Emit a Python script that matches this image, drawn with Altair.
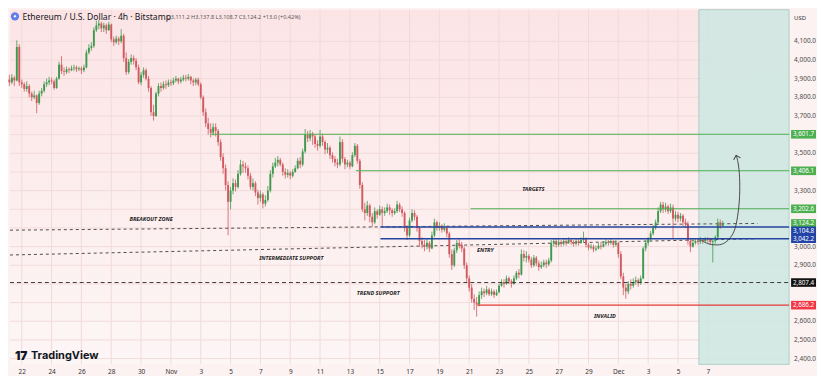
import altair as alt
import pandas as pd

# ---------------- data ----------------
# 4h candles, first candle Oct 21 04:00; x = days since Oct 22 00:00
first_day = -5 / 6
first_open = 3895.0
closes = [
    3880, 3905, 3890, 4070, 3880,                  # Oct 21
    3870, 3845, 3860, 3820, 3800, 3810,            # Oct 22
    3770, 3820, 3835, 3870, 3880, 3890,            # Oct 23
    3885, 3850, 3900, 3975, 3940, 3935,            # Oct 24
    3950, 3945, 3955, 3960, 3950, 3955,            # Oct 25
    3945, 3960, 4040, 4065, 4075, 4160,            # Oct 26
    4185, 4195, 4170, 4185, 4160, 4190,            # Oct 27
    4110, 4095, 4115, 4100, 4130, 4010,            # Oct 28
    3935, 3990, 4010, 3995, 3960, 3880,            # Oct 29
    3920, 3945, 3900, 3850, 3720, 3700,            # Oct 30
    3820, 3860, 3850, 3870, 3865, 3880,            # Oct 31
    3875, 3890, 3900, 3885, 3895, 3905,            # Nov 1
    3900, 3910, 3890, 3880, 3895, 3870,            # Nov 2
    3800, 3720, 3660, 3630, 3610, 3640,            # Nov 3
    3620, 3560, 3480, 3420, 3330, 3240,            # Nov 4
    3300, 3340, 3320, 3390, 3440, 3430,            # Nov 5
    3420, 3380, 3320, 3340, 3290, 3260,            # Nov 6
    3280, 3230, 3250, 3300, 3390, 3430,            # Nov 7
    3450, 3465, 3440, 3400, 3385, 3395,            # Nov 8
    3380, 3400, 3420, 3460, 3440, 3510,            # Nov 9
    3600, 3580, 3605, 3590, 3550, 3540,            # Nov 10
    3590, 3560, 3520, 3530, 3490, 3470,            # Nov 11
    3450, 3440, 3560, 3470, 3440, 3450,            # Nov 12
    3430, 3490, 3540, 3460, 3330, 3200,            # Nov 13
    3180, 3220, 3160, 3130, 3190, 3170,            # Nov 14
    3200, 3180, 3190, 3210, 3195, 3180,            # Nov 15
    3190, 3225, 3200, 3180, 3100, 3060,            # Nov 16
    3140, 3180, 3160, 3100, 3030, 3010,            # Nov 17
    3000, 3020, 2990, 3060, 3130, 3100,            # Nov 18
    3110, 3090, 3100, 3070, 2960, 2900,            # Nov 19
    2980, 3020, 3010, 2990, 2900, 2830,            # Nov 20
    2780, 2720, 2700, 2690, 2740, 2760,            # Nov 21
    2750, 2770, 2745, 2760, 2740, 2755,            # Nov 22
    2790, 2810, 2800, 2830, 2815, 2800,            # Nov 23
    2830, 2860, 2850, 2960, 2940, 2950,            # Nov 24
    2930, 2900, 2940, 2910, 2890, 2900,            # Nov 25
    2915, 2905, 2925, 3020, 3030, 3010,            # Nov 26
    3025, 3015, 3030, 3020, 3035, 3025,            # Nov 27
    3015, 3030, 3020, 3035, 3040, 3010,            # Nov 28
    2995, 3000, 2985, 2990, 3005, 3000,            # Nov 29
    3015, 3025, 3020, 3030, 3010, 3020,            # Nov 30
    2960, 2840, 2780, 2760, 2800, 2790,            # Dec 1
    2810, 2820, 2805, 2830, 2990, 3020,            # Dec 2
    3040, 3070, 3100, 3130, 3190, 3225,            # Dec 3
    3200, 3215, 3190, 3210, 3150, 3170,            # Dec 4
    3150, 3165, 3130, 3120, 3030, 3000,            # Dec 5
    3020, 3030, 3025, 3035, 3030, 3040,            # Dec 6
    3035, 3025, 3030, 3050, 3130, 3111.2,          # Dec 7
    3124.2,                                        # Dec 8
]
highs = [
    3920, 3925, 3915, 4105, 4085,
    3895, 3880, 3885, 3870, 3830, 3835,
    3815, 3835, 3850, 3885, 3900, 3910,
    3905, 3895, 3910, 3990, 4020, 3960,
    3965, 3960, 3970, 3975, 3970, 3965,
    3965, 3975, 4055, 4085, 4095, 4175,
    4210, 4215, 4205, 4200, 4195, 4205,
    4195, 4125, 4130, 4125, 4165, 4140,
    4040, 4005, 4030, 4025, 4010, 3975,
    3935, 3960, 3955, 3915, 3860, 3760,
    3830, 3875, 3880, 3885, 3890, 3895,
    3895, 3905, 3915, 3905, 3910, 3920,
    3920, 3925, 3915, 3900, 3905, 3905,
    3880, 3810, 3740, 3690, 3660, 3660,
    3660, 3630, 3575, 3500, 3440, 3350,
    3320, 3365, 3360, 3410, 3465, 3460,
    3450, 3435, 3395, 3365, 3350, 3305,
    3300, 3290, 3275, 3325, 3410, 3450,
    3475, 3485, 3475, 3450, 3420, 3415,
    3405, 3415, 3435, 3475, 3480, 3525,
    3630, 3620, 3625, 3615, 3600, 3570,
    3625, 3605, 3570, 3555, 3540, 3505,
    3485, 3470, 3590, 3575, 3480, 3465,
    3460, 3505, 3555, 3550, 3470, 3345,
    3235, 3245, 3230, 3180, 3210, 3200,
    3220, 3215, 3210, 3230, 3225, 3205,
    3205, 3245, 3235, 3215, 3190, 3115,
    3155, 3200, 3195, 3170, 3110, 3050,
    3035, 3045, 3030, 3080, 3150, 3140,
    3130, 3120, 3125, 3110, 3080, 2985,
    2995, 3035, 3040, 3025, 3000, 2915,
    2845, 2800, 2745, 2730, 2760, 2780,
    2775, 2790, 2780, 2775, 2770, 2770,
    2800, 2825, 2825, 2845, 2840, 2825,
    2845, 2870, 2880, 2985, 2980, 2975,
    2960, 2945, 2955, 2950, 2925, 2920,
    2930, 2930, 2940, 3035, 3045, 3040,
    3040, 3035, 3045, 3040, 3050, 3045,
    3035, 3045, 3040, 3050, 3080, 3050,
    3020, 3015, 3010, 3005, 3020, 3025,
    3030, 3040, 3035, 3045, 3035, 3035,
    3025, 2975, 2860, 2800, 2815, 2825,
    2830, 2840, 2830, 2845, 3000, 3035,
    3050, 3085, 3115, 3145, 3210, 3240,
    3240, 3235, 3225, 3230, 3225, 3190,
    3185, 3180, 3175, 3150, 3135, 3045,
    3035, 3045, 3040, 3050, 3045, 3050,
    3050, 3045, 3040, 3060, 3150, 3145,
    3137.8,
]
lows = [
    3860, 3870, 3860, 3885, 3860,
    3850, 3830, 3830, 3800, 3780, 3790,
    3715, 3760, 3805, 3825, 3855, 3865,
    3870, 3840, 3845, 3895, 3925, 3915,
    3925, 3930, 3940, 3940, 3935, 3940,
    3925, 3935, 3955, 4030, 4050, 4065,
    4150, 4165, 4150, 4150, 4140, 4155,
    4095, 4075, 4085, 4080, 4090, 3990,
    3920, 3925, 3975, 3975, 3945, 3870,
    3865, 3905, 3890, 3830, 3700, 3675,
    3695, 3805, 3830, 3840, 3845, 3855,
    3860, 3865, 3880, 3870, 3875, 3885,
    3885, 3890, 3870, 3860, 3865, 3860,
    3790, 3700, 3640, 3600, 3585, 3595,
    3590, 3540, 3460, 3390, 3300, 3060,
    3200, 3280, 3295, 3310, 3380, 3395,
    3395, 3360, 3305, 3300, 3270, 3225,
    3240, 3205, 3215, 3240, 3290, 3370,
    3420, 3430, 3430, 3380, 3365, 3370,
    3360, 3370, 3395, 3415, 3420, 3430,
    3500, 3560, 3565, 3545, 3530, 3515,
    3530, 3540, 3495, 3500, 3470, 3450,
    3430, 3420, 3430, 3450, 3415, 3425,
    3415, 3425, 3480, 3445, 3310, 3185,
    3140, 3165, 3130, 3105, 3120, 3150,
    3165, 3110, 3165, 3180, 3170, 3160,
    3170, 3180, 3185, 3160, 3080, 3035,
    3050, 3130, 3140, 3080, 3000, 2990,
    2975, 2985, 2970, 2985, 3050, 3085,
    3085, 3075, 3080, 3050, 2940, 2875,
    2890, 2965, 2990, 2970, 2880, 2810,
    2760, 2700, 2660, 2625, 2680, 2720,
    2730, 2740, 2735, 2735, 2725, 2735,
    2750, 2785, 2780, 2795, 2800, 2780,
    2795, 2820, 2830, 2845, 2920, 2915,
    2915, 2885, 2890, 2895, 2870, 2880,
    2890, 2885, 2895, 2915, 3000, 2995,
    3000, 3000, 3005, 3005, 3015, 3010,
    3000, 3005, 3005, 3015, 3020, 2995,
    2980, 2985, 2970, 2975, 2985, 2985,
    2995, 3005, 3005, 3010, 2995, 3000,
    2940, 2825, 2740, 2720, 2745, 2770,
    2780, 2795, 2785, 2795, 2825, 2975,
    3005, 3030, 3060, 3090, 3120, 3180,
    3180, 3185, 3175, 3180, 3040, 3135,
    3130, 3135, 3110, 3100, 3010, 2970,
    2995, 3010, 3010, 3015, 3015, 3020,
    3020, 3010, 2915, 3015, 3040, 3095,
    3108.7,
]

tick_days = list(range(0, 47, 2))
tick_labels = ["22", "24", "26", "28", "30", "Nov", "3", "5", "7", "9", "11", "13",
               "15", "17", "19", "21", "23", "25", "27", "29", "Dec", "3", "5", "7"]
y_ticks = list(range(2400, 4101, 100))

level_prices = [3601.7, 3406.1, 3202.6, 3104.8, 3042.2, 2807.4, 2686.2]
level_start = [12.68, 22.4, 30.09, 24.05, 24.05, -0.79, 30.55]
level_kind = ["target", "target", "target", "entry", "entry", "trend", "invalid"]

trend_names = ["breakout", "intermediate"]
trend_d0 = [-0.79, -0.79]
trend_p0 = [3088, 2955]
trend_d1 = [49.34, 49.15]
trend_p1 = [3124, 3042]

arrow_d = [45.53, 45.99, 46.52, 47.04, 47.5, 47.83, 48.03, 48.13, 48.13, 48.03, 47.9]
arrow_p = [3037, 3016, 3009, 3016, 3047, 3098, 3181, 3268, 3371, 3448, 3489]

notes = ["BREAKOUT ZONE", "TARGETS", "INTERMEDIATE SUPPORT", "ENTRY", "TREND SUPPORT", "INVALID"]
note_d = [8.67, 34.3, 18.07, 31.08, 23.9, 39.1]
note_p = [3150, 3309, 2939, 2980, 2749, 2626]

tag_values = [3601.7, 3406.1, 3202.6, 3124.2, 3104.8, 3042.2, 2807.4, 2686.2]
tag_kind = ["target", "target", "target", "last", "entry", "entry", "trend", "invalid"]

box_d = [45.4, 51.45]

title_text = "Ethereum / U.S. Dollar \u00b7 4h \u00b7 Bitstamp"
ohlc_text = "O3,111.2  H3,137.8  L3,108.7  C3,124.2  +13.0 (+0.42%)"

# ---------------- layout / style ----------------
W, H = 782, 356
XDOM = [-0.79, 51.45]
YDOM = [2369, 4269.5]
UP, DN = "#3f9a4f", "#d05a5f"
FONT = "Noto Sans"
kind_color = {"target": "#4caf50", "last": "#4caf50", "entry": "#23449f",
              "trend": "#3a3a3a", "invalid": "#e53935"}
tag_color = {"target": "#4caf50", "last": "#4caf50", "entry": "#2144a6",
             "trend": "#111111", "invalid": "#f23645"}
tag_dy = {3104.8: 3.8}

# price-scale labels hidden behind the coloured price tags (as on the reference)
shown_ticks = [t for t in y_ticks if all(abs(t - v) >= 35 for v in tag_values)]

xs = alt.Scale(domain=XDOM, nice=False, zero=False)
ys = alt.Scale(domain=YDOM, nice=False, zero=False)
label_expr = " : ".join(f"datum.value == {d} ? '{t}'" for d, t in zip(tick_days, tick_labels)) + " : ''"
xaxis = alt.Axis(values=tick_days, labelExpr=label_expr, grid=False, ticks=False, domain=False,
                 labelFontSize=6.5, labelColor="#333333", labelFont=FONT, labelPadding=4,
                 labelFlush=False, labelOverlap=False, title=None)


def X(f):
    return alt.X(f, type="quantitative", scale=xs, axis=xaxis)


def Y(f):
    return alt.Y(f, type="quantitative", scale=ys, axis=None)


one = pd.DataFrame({"k": [0]})

n = len(closes)
assert n == len(highs) == len(lows) == 288
opens = [first_open] + closes[:-1]
candles = pd.DataFrame({
    "d": [first_day + i / 6 for i in range(n)],
    "o": opens, "h": highs, "l": lows, "c": closes,
})

grad = alt.LinearGradient(gradient="linear",
                          stops=[alt.GradientStop(offset=0, color="#fce4e5"),
                                 alt.GradientStop(offset=1, color="#fdf6f6")],
                          x1=0, x2=0, y1=0, y2=1)
bg = alt.Chart(one).mark_rect(color=grad).encode(
    x=alt.value(0), x2=alt.value(W), y=alt.value(0), y2=alt.value(H))

vgrid = alt.Chart(pd.DataFrame({"d": tick_days})).mark_rule(color="#f2dada", strokeWidth=1).encode(x=X("d"))
hgrid = alt.Chart(pd.DataFrame({"p": y_ticks})).mark_rule(color="#f2dada", strokeWidth=1).encode(y=Y("p"))

box = alt.Chart(pd.DataFrame({"d": [box_d[0]], "d1": [box_d[1]]})).mark_rect(
    color="#cee8e2", opacity=0.85, stroke="#8fc4b6", strokeWidth=0.8).encode(
    x=X("d"), x2=alt.X2("d1"), y=alt.value(0), y2=alt.value(H))

cond = alt.condition("datum.c >= datum.o", alt.value(UP), alt.value(DN))
wicks = alt.Chart(candles).mark_rule(strokeWidth=0.8).encode(
    x=X("d"), y=Y("l"), y2=alt.Y2("h"), color=cond)
bodies = alt.Chart(candles).mark_rule(strokeWidth=1.9).encode(
    x=X("d"), y=Y("o"), y2=alt.Y2("c"), color=cond)

trend_df = pd.DataFrame({
    "name": trend_names + trend_names,
    "d": trend_d0 + trend_d1,
    "p": trend_p0 + trend_p1,
})
trends = alt.Chart(trend_df).mark_line(color="#4d4d4d", strokeWidth=1, strokeDash=[3, 3]).encode(
    x=X("d"), y=Y("p"), detail="name:N")

layers = [bg, vgrid, hgrid, box, trends, wicks, bodies]

for p, d0, kind in zip(level_prices, level_start, level_kind):
    df = pd.DataFrame({"d": [d0], "d1": [XDOM[1]], "p": [p]})
    kw = dict(color=kind_color[kind], strokeWidth=1.1)
    if kind == "trend":
        kw["strokeDash"] = [4, 3]
        kw["strokeWidth"] = 1
    if kind == "entry":
        kw["strokeWidth"] = 1.4
    layers.append(alt.Chart(df).mark_rule(**kw).encode(x=X("d"), x2=alt.X2("d1"), y=Y("p")))

arrow_df = pd.DataFrame({"i": list(range(len(arrow_d))), "d": arrow_d, "p": arrow_p})
arrow = alt.Chart(arrow_df).mark_line(interpolate="cardinal", color="#3a3a3a", strokeWidth=0.9).encode(
    x=X("d"), y=Y("p"), order="i:Q")
head = alt.Chart(arrow_df.tail(1)).mark_point(
    shape="M-1,1L0,0L1,1", size=50, filled=False, strokeWidth=1, color="#3a3a3a", opacity=1, angle=345).encode(
    x=X("d"), y=Y("p"))
layers += [arrow, head]

notes_df = pd.DataFrame({"t": notes, "d": note_d, "p": note_p})
layers.append(alt.Chart(notes_df).mark_text(
    fontSize=5.6, fontStyle="italic", fontWeight="bold", color="#1e1e1e", font=FONT).encode(
    x=X("d"), y=Y("p"), text="t:N"))

# price scale labels on the right strip
layers.append(alt.Chart(pd.DataFrame({"p": shown_ticks})).mark_text(
    align="left", baseline="middle", fontSize=6.5, color="#4a4a4a", font=FONT).encode(
    x=alt.value(W + 5), y=Y("p"), text=alt.Text("p:Q", format=",.1f")))
layers.append(alt.Chart(one).mark_text(
    align="left", baseline="middle", fontSize=6, color="#333333", font=FONT, text="USD").encode(
    x=alt.value(W + 5), y=alt.value(8)))

for v, kind in zip(tag_values, tag_kind):
    df = pd.DataFrame({"p": [v]})
    dy = tag_dy.get(v, 0)
    layers.append(alt.Chart(df).mark_point(
        shape="M-1,-0.345H1V0.345H-1Z", size=625, filled=True, opacity=1,
        color=tag_color[kind], yOffset=dy).encode(x=alt.value(W + 14.5), y=Y("p")))
    layers.append(alt.Chart(df).mark_text(
        align="center", baseline="middle", fontSize=6.3, color="white", font=FONT, yOffset=dy).encode(
        x=alt.value(W + 14.5), y=Y("p"), text=alt.Text("p:Q", format=",.1f")))

# header and branding
layers.append(alt.Chart(one).mark_point(shape="circle", filled=True, size=70, color="#627eea", opacity=1).encode(
    x=alt.value(5), y=alt.value(6.7)))
layers.append(alt.Chart(one).mark_point(shape="diamond", filled=True, size=9, color="white", opacity=1).encode(
    x=alt.value(5), y=alt.value(6.7)))
layers.append(alt.Chart(one).mark_text(
    align="left", baseline="middle", fontSize=8.6, color="#131722", font=FONT, text=title_text).encode(
    x=alt.value(12.5), y=alt.value(7)))
layers.append(alt.Chart(one).mark_text(
    align="left", baseline="middle", fontSize=5.6, color="#555555", font=FONT, text=ohlc_text).encode(
    x=alt.value(157), y=alt.value(7.2)))
layers.append(alt.Chart(one).mark_text(
    align="left", baseline="middle", fontSize=12, fontWeight=900, color="#131722", font="Inter", text="17").encode(
    x=alt.value(5), y=alt.value(347.5)))
layers.append(alt.Chart(one).mark_text(
    align="left", baseline="middle", fontSize=11, fontWeight="bold", color="#131722", font="Inter",
    text="TradingView").encode(x=alt.value(21), y=alt.value(347.5)))

chart = alt.layer(*layers).properties(
    width=W, height=H, background="#fdf2f2",
    padding={"left": 0, "top": 0, "right": 0, "bottom": 0},
).configure_view(strokeWidth=0)

chart.save("out.html", embed_options={"renderer": "svg", "actions": False})
